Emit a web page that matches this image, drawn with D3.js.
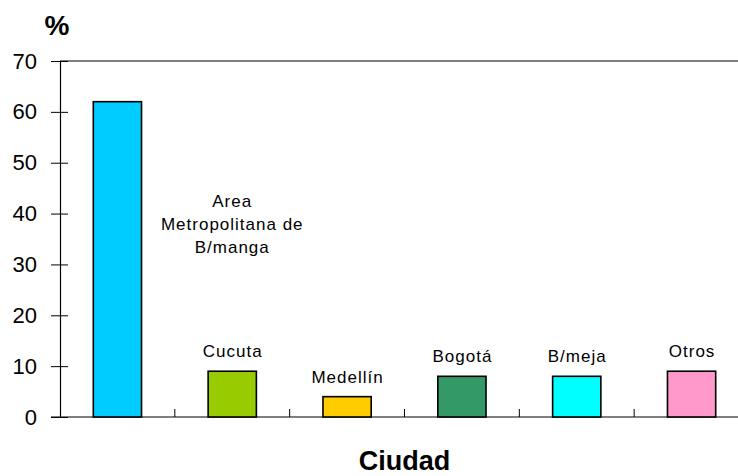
<!DOCTYPE html>
<html>
<head>
<meta charset="utf-8">
<script src="https://cdn.jsdelivr.net/npm/d3@7"></script>
<style>
  body { margin: 0; background: #fff; }
  svg { display: block; font-family: "Liberation Sans", Arial, sans-serif; }
</style>
</head>
<body>
<svg width="738" height="476"></svg>
<script>
// chart data
var cities = ["Area Metropolitana de B/manga", "Cucuta", "Medellín", "Bogotá", "B/meja", "Otros"];
var percents = [62, 9, 4, 8, 8, 9];
var barColors = ["#00ccff", "#99cc00", "#ffcc00", "#339966", "#00ffff", "#ff99cc"];
var yTicks = [0, 10, 20, 30, 40, 50, 60, 70];

var svg = d3.select("svg");

var plotLeft = 60, plotRight = 749, plotTop = 61, plotBottom = 417;

var x = d3.scaleBand()
    .domain(cities)
    .range([plotLeft, plotRight])
    .paddingInner(0.58)
    .paddingOuter(0.29);

var y = d3.scaleLinear()
    .domain([0, 70])
    .range([plotBottom, plotTop]);

// top frame line
svg.append("line")
    .attr("x1", plotLeft).attr("x2", 738)
    .attr("y1", y(70)).attr("y2", y(70))
    .attr("stroke", "#000").attr("stroke-width", 1.2);

// y axis
var yAxis = svg.append("g")
    .attr("transform", "translate(" + plotLeft + ",0)")
    .call(d3.axisLeft(y).tickValues(yTicks).tickSizeOuter(0).tickSizeInner(9).tickPadding(14));
yAxis.select(".domain").attr("stroke", "#000").attr("stroke-width", 1.2);
yAxis.selectAll(".tick line").attr("stroke", "#000").attr("x2", 8).attr("x1", -9);
yAxis.selectAll(".tick text")
    .attr("font-family", "Liberation Sans, Arial, sans-serif")
    .attr("font-size", 22)
    .attr("fill", "#000");

// x axis with ticks between categories
var xAxis = svg.append("g")
    .attr("transform", "translate(0," + plotBottom + ")");
xAxis.append("line")
    .attr("x1", plotLeft - 9).attr("x2", 738)
    .attr("stroke", "#000").attr("stroke-width", 1.2);
xAxis.selectAll(".sep")
    .data(cities.slice(1))
    .enter().append("line")
    .attr("class", "sep")
    .attr("x1", function (d) { return x(d) - x.step() * x.paddingOuter(); })
    .attr("x2", function (d) { return x(d) - x.step() * x.paddingOuter(); })
    .attr("y1", 0).attr("y2", -8)
    .attr("stroke", "#000");

// bars
svg.append("g")
    .selectAll("rect")
    .data(cities)
    .enter().append("rect")
    .attr("x", function (d) { return x(d); })
    .attr("y", function (d, i) { return y(percents[i]); })
    .attr("width", x.bandwidth())
    .attr("height", function (d, i) { return y(0) - y(percents[i]); })
    .attr("fill", function (d, i) { return barColors[i]; })
    .attr("stroke", "#000")
    .attr("stroke-width", 1.6);

// labels above the small bars
svg.append("g")
    .selectAll("text")
    .data(cities.slice(1))
    .enter().append("text")
    .attr("x", function (d) { return x(d) + x.bandwidth() / 2 + 0.5; })
    .attr("y", function (d, i) { return y(percents[i + 1]) - 14; })
    .attr("text-anchor", "middle")
    .attr("font-size", 17)
    .attr("letter-spacing", 1)
    .attr("fill", "#000")
    .text(function (d) { return d; });

// label of the first bar, set to its right
var labelX = x(cities[1]) + x.bandwidth() / 2;
var bigLabel = svg.append("text")
    .attr("x", labelX)
    .attr("y", 207)
    .attr("text-anchor", "middle")
    .attr("font-size", 17)
    .attr("letter-spacing", 1)
    .attr("fill", "#000");
["Area", "Metropolitana de", "B/manga"].forEach(function (t, i) {
    bigLabel.append("tspan")
        .attr("x", labelX)
        .attr("dy", i === 0 ? 0 : 23)
        .text(t);
});

// axis titles
svg.append("text")
    .attr("x", 57).attr("y", 35)
    .attr("text-anchor", "middle")
    .attr("font-size", 28)
    .attr("font-weight", "bold")
    .text("%");

svg.append("text")
    .attr("x", (plotLeft + plotRight) / 2).attr("y", 470)
    .attr("text-anchor", "middle")
    .attr("font-size", 27)
    .attr("font-weight", "bold")
    .text("Ciudad");
</script>
</body>
</html>
